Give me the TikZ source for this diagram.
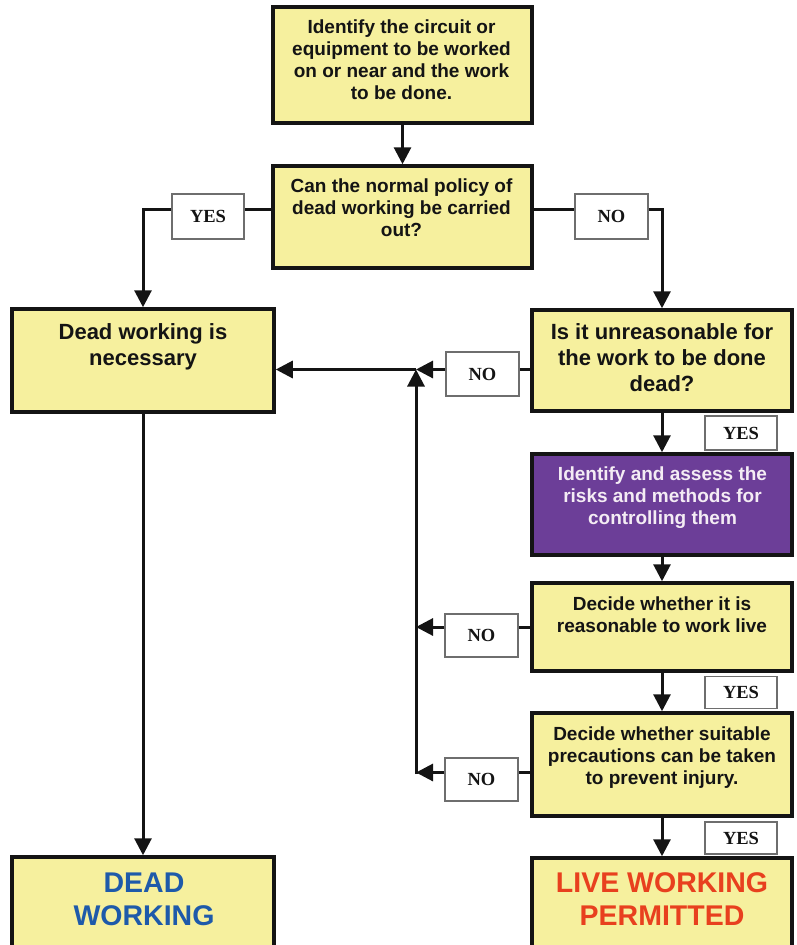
\documentclass[tikz,border=0pt]{standalone}
\usepackage{fontspec}
\setmainfont{Liberation Sans}
\newfontfamily\serifb{Liberation Serif}
\usetikzlibrary{arrows.meta}
\definecolor{boxyellow}{RGB}{246,240,158}
\definecolor{boxpurple}{RGB}{108,62,152}
\definecolor{purpletext}{RGB}{244,236,244}
\definecolor{deadblue}{RGB}{30,90,170}
\definecolor{livered}{RGB}{232,64,30}
\definecolor{ink}{RGB}{20,20,20}
\definecolor{lblgray}{RGB}{110,110,110}
\begin{document}
\begin{tikzpicture}[x=1pt,y=-1pt,
  box/.style={draw=ink, line width=3.5pt, fill=boxyellow, inner sep=0pt},
  pbox/.style={box, fill=boxpurple},
  txt/.style={align=center, font=\fontsize{19}{22}\selectfont\bfseries, text=ink, inner sep=0pt},
  bigtxt/.style={txt, font=\fontsize{22}{26}\selectfont\bfseries},
  endtxt/.style={txt, font=\fontsize{28.5}{32.5}\selectfont\bfseries},
  lbl/.style={draw=lblgray, line width=1.2pt, fill=white, inner sep=0pt, font=\serifb\fontsize{18.5}{20}\selectfont\bfseries, text=ink},
  conn/.style={draw=ink, line width=3pt},
  arr/.style={conn, -{Triangle[length=17pt,width=17pt]}},
]
\useasboundingbox (0,0) rectangle (797,945);
\clip (0,0) rectangle (797,945);

% boxes
\node[box, minimum width=259pt, minimum height=116pt] (b1) at (402.5,65) {};
\node[box, minimum width=259pt, minimum height=102pt] (b2) at (402.5,217) {};
\node[box, minimum width=262pt, minimum height=103pt] (b3) at (143,360.5) {};
\node[box, minimum width=260pt, minimum height=101pt] (b4) at (662,360.5) {};
\node[pbox, minimum width=260pt, minimum height=101pt] (bp) at (662,504.5) {};
\node[box, minimum width=260pt, minimum height=88pt] (b5) at (662,627) {};
\node[box, minimum width=260pt, minimum height=103pt] (b6) at (662,764.5) {};
\node[box, minimum width=260pt, minimum height=96pt] (b7) at (662,906) {};
\node[box, minimum width=262pt, minimum height=96pt] (bd) at (143,905) {};

% texts
\node[txt] (t1) at (401.5,60) {Identify the circuit or\\equipment to be worked\\on or near and the work\\to be done.};
\node[txt] (t2) at (401.5,207.5) {Can the normal policy of\\dead working be carried\\out?};
\node[bigtxt] (t3) at (143,347) {Dead working is\\necessary};
\node[bigtxt] (t4) at (662,357.5) {Is it unreasonable for\\the work to be done\\dead?};
\node[txt, text=purpletext] (tp) at (662.5,498) {Identify and assess the\\risks and methods for\\controlling them};
\node[txt] (t5) at (662,614.5) {Decide whether it is\\reasonable to work live};
\node[txt] (t6) at (662,757.5) {Decide whether suitable\\precautions can be taken\\to prevent injury.};
\node[endtxt, text=livered] (t7) at (662,899) {LIVE WORKING\\PERMITTED};
\node[endtxt, text=deadblue] (td) at (144,899.5) {DEAD\\WORKING};

% labels
\node[lbl, minimum width=72pt, minimum height=45pt] (L1) at (208,216.5) {YES};
\node[lbl, minimum width=73pt, minimum height=45pt] (L2) at (611.5,216.5) {NO};
\node[lbl, minimum width=73pt, minimum height=44pt] (L3) at (482.5,374) {NO};
\node[lbl, minimum width=72pt, minimum height=34pt] (L4) at (741,433) {YES};
\node[lbl, minimum width=73pt, minimum height=43pt] (L5) at (481.5,635.5) {NO};
\node[lbl, minimum width=72pt, minimum height=32pt] (L6) at (741,692.5) {YES};
\node[lbl, minimum width=73pt, minimum height=43pt] (L7) at (481.5,779.5) {NO};
\node[lbl, minimum width=72pt, minimum height=32pt] (L8) at (741,838) {YES};

\coordinate (j) at (416,369.5);
\coordinate (k) at (416,772.5);

% connectors
\draw[arr] (b1.south) -- (b2.north);
\draw[conn] ([yshift=8pt]b2.west) -- ([yshift=8pt]b2.west -| L1.east);
\draw[arr] ([yshift=8pt]b2.west -| L1.west) -| (b3.north);
\draw[conn] ([yshift=8pt]b2.east) -- ([yshift=8pt]b2.east -| L2.west);
\draw[arr] ([yshift=8pt]b2.east -| L2.east) -| (b4.north);

\draw[conn] (b4.west |- j) -- (L3.east |- j);
\draw[arr] (L3.west |- j) -- (j);
\draw[arr] (j) -- (b3.east |- j);
\draw[arr] ([yshift=-1.5pt]k) -- (j);

\draw[conn] (b5.west) -- (L5.east |- b5.west);
\draw[arr] (L5.west |- b5.west) -- (k |- b5.west);
\draw[conn] (b6.west |- k) -- (L7.east |- k);
\draw[arr] (L7.west |- k) -- (k);

\draw[arr] (b4.south) -- (bp.north);
\draw[arr] (bp.south) -- (b5.north);
\draw[arr] (b5.south) -- (b6.north);
\draw[arr] (b6.south) -- (b7.north);
\draw[arr] (b3.south) -- (bd.north);
\end{tikzpicture}
\end{document}
